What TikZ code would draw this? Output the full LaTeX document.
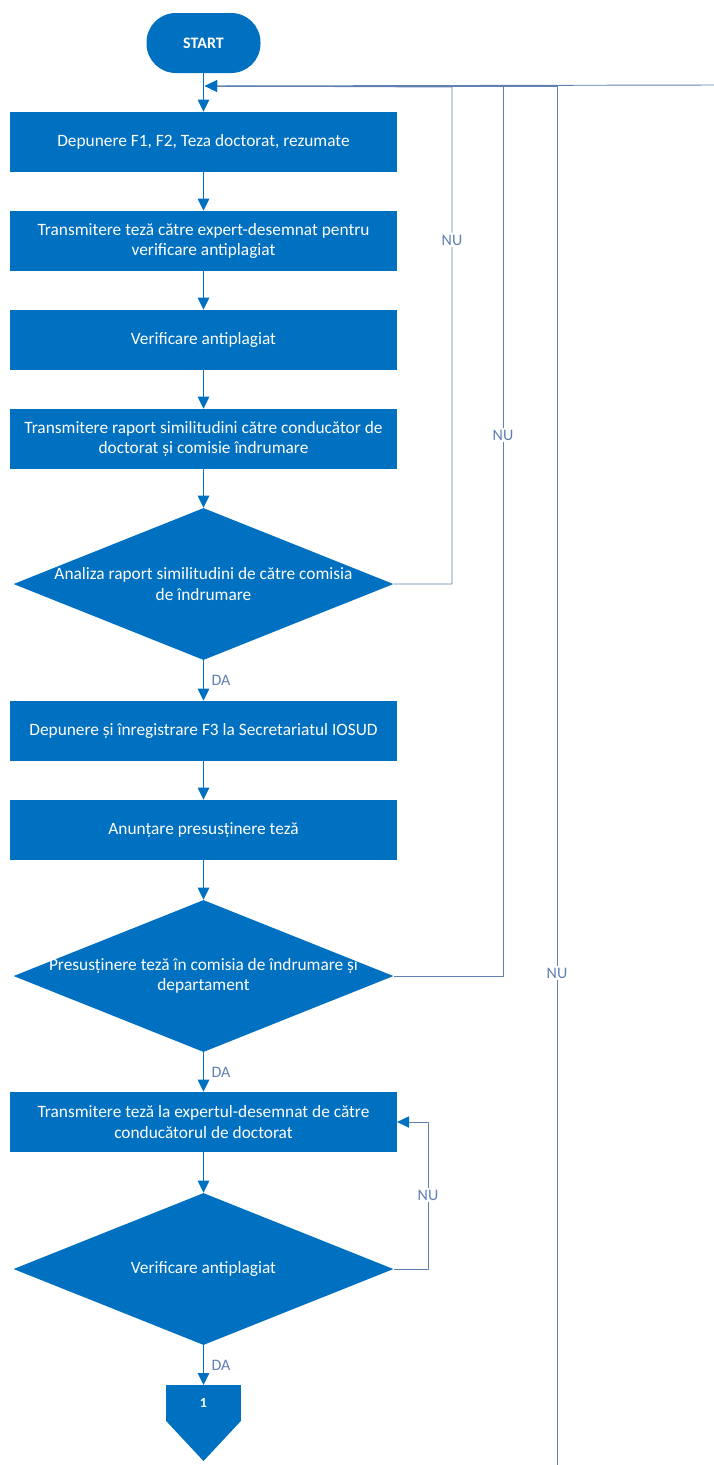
\documentclass[tikz,border=0pt]{standalone}
\usepackage{fontspec}
\setmainfont{Carlito}
\usepackage{tikz}
\usetikzlibrary{shapes.geometric, arrows.meta, positioning, calc}
\definecolor{flowblue}{RGB}{0,112,192}
\definecolor{loopgrey}{RGB}{96,128,178}

\begin{document}
\begin{tikzpicture}[
    x=0.75pt, y=-0.75pt,
    >={Triangle[width=8.5pt, length=9pt]},
    terminal/.style={rectangle, rounded corners=22pt, fill=flowblue, text=white,
                     minimum width=85.5pt, minimum height=45pt,
                     font=\bfseries\fontsize{12}{14}\selectfont},
    process/.style={rectangle, fill=flowblue, text=white, align=center,
                    minimum width=290pt, minimum height=45pt,
                    font=\fontsize{13}{15.5}\selectfont},
    decision/.style={diamond, shape aspect=2.5, fill=flowblue, text=white, align=center,
                     inner xsep=-60pt, inner ysep=0pt,
                     minimum width=285pt, minimum height=114pt,
                     font=\fontsize{13}{15.5}\selectfont},
    offpage/.style={rectangle, fill=flowblue, text=white, outer sep=0pt,
                    minimum width=56pt, minimum height=27pt,
                    font=\bfseries\fontsize{10.5}{12}\selectfont},
    flow/.style={->, draw=flowblue, line width=1.1pt},
    loopline/.style={draw=loopgrey, line width=0.7pt},
    loopin/.style={loopline, -{Triangle[width=8.5pt, length=9pt, color=flowblue]}},
    answer/.style={text=loopgrey, font=\fontsize{12}{14}\selectfont, inner sep=1.5pt}
]
\useasboundingbox (0,0) rectangle (714,1465);

\node[terminal] (start) at (203.5,43) {START};
\node[process] (box1) at (203.5,142) {Depunere F1, F2, Teza doctorat, rezumate};
\node[process] (box2) at (203.5,241) {Transmitere teză către expert-desemnat pentru\\ verificare antiplagiat};
\node[process] (box3) at (203.5,340) {Verificare antiplagiat};
\node[process] (box4) at (203.5,439) {Transmitere raport similitudini către conducător de\\ doctorat și comisie îndrumare};
\node[decision] (check1) at (203.5,584) {Analiza raport similitudini de către comisia\\ de îndrumare};
\node[process] (box5) at (203.5,731) {Depunere și înregistrare F3 la Secretariatul IOSUD};
\node[process] (box6) at (203.5,830) {Anunțare presusținere teză};
\node[decision] (check2) at (203.5,976) {Presusținere teză în comisia de îndrumare și\\ departament};
\node[process] (box7) at (203.5,1122) {Transmitere teză la expertul-desemnat de către\\ conducătorul de doctorat};
\node[decision] (check3) at (203.5,1269) {Verificare antiplagiat};
\node[offpage] (link) at (203.5,1403) {1};
\fill[flowblue] (link.south west) -- (link.south east) -- ($(link.south)+(0,40)$) -- cycle;

% Main path, top to bottom.
\foreach \a/\b in {start/box1, box1/box2, box2/box3, box3/box4, box4/check1,
                   box5/box6, box6/check2, box7/check3} {
    \draw[flow] (\a) -- (\b);
}
\draw[flow] (check1) -- node[answer, right, xshift=4pt] (da1) {DA} (box5);
\draw[flow] (check2) -- node[answer, right, xshift=4pt] (da2) {DA} (box7);
\draw[flow] (check3) -- node[answer, right, xshift=4pt] (da3) {DA} (link);

% Return branches back to the first step.
\coordinate (join) at (205,86);
\coordinate (edge) at (714,85);
\coordinate (tail) at (557,1465);
\draw[loopline] (edge) -- (join);
\draw[loopin] (tail) |- (join);
\draw[loopin] (check2.east) -| (503,86) -- (join);
\draw[loopin] (check1.east) -| (452,87) -- (join);
\draw[loopin] (check3.east) -| (428,1122) -- (box7.east);

\node[answer, fill=white] (nu1) at (452,240) {NU};
\node[answer, fill=white] (nu2) at (503,435) {NU};
\node[answer, fill=white] (nu3) at (557,973) {NU};
\node[answer, fill=white] (nu4) at (428,1195) {NU};
\end{tikzpicture}
\end{document}
